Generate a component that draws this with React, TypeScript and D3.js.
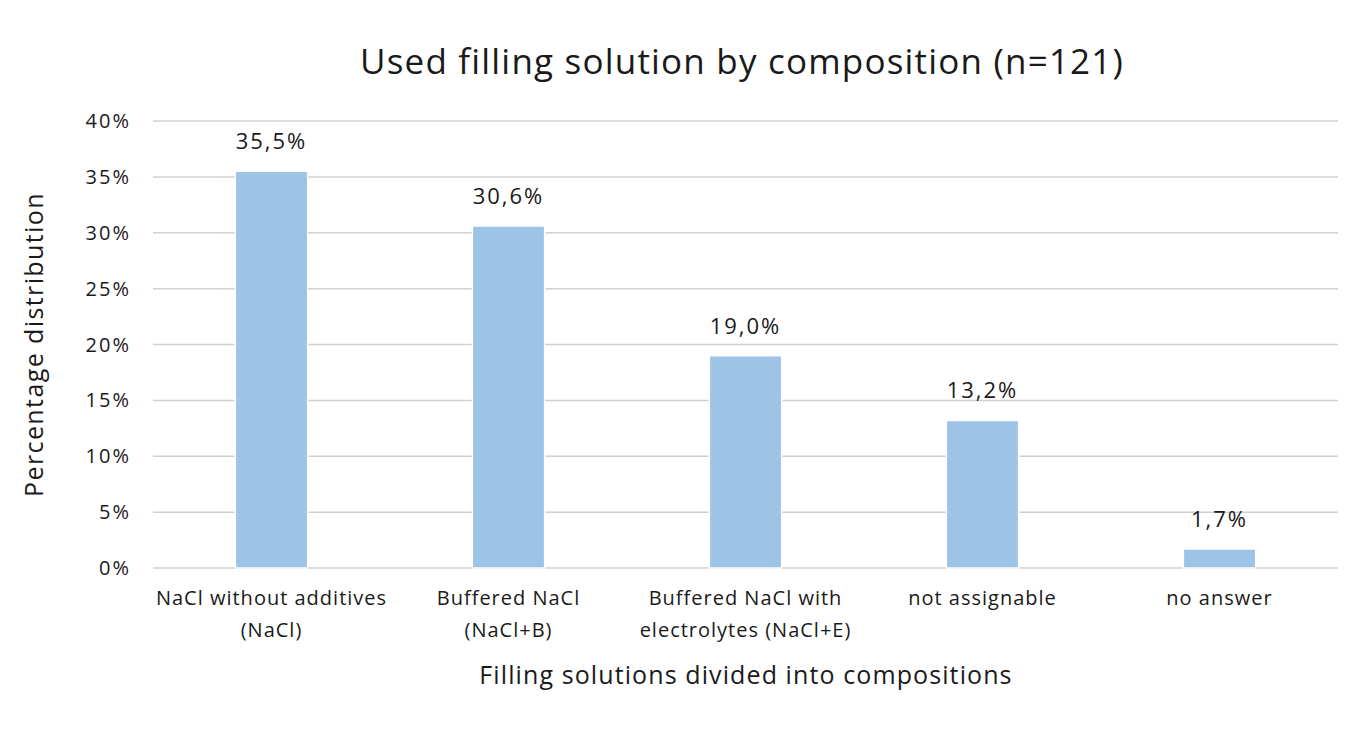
import * as d3 from "d3";

const categories = [
  ["NaCl without additives", "(NaCl)"],
  ["Buffered NaCl", "(NaCl+B)"],
  ["Buffered NaCl with", "electrolytes (NaCl+E)"],
  ["not assignable"],
  ["no answer"],
];
const values = [35.5, 30.6, 19.0, 13.2, 1.7];
const valueLabels = ["35,5%", "30,6%", "19,0%", "13,2%", "1,7%"];
const yTicks = [0, 5, 10, 15, 20, 25, 30, 35, 40];

const W = 1360;
const H = 730;
const font = "'Open Sans', sans-serif";

export default function App() {
  const margin = { left: 153, right: 22, top: 121, bottom: 162 };
  const x = d3
    .scaleBand<number>()
    .domain(values.map((_, i) => i))
    .range([margin.left, W - margin.right])
    .paddingInner(0.695)
    .paddingOuter(0.3475);
  const y = d3.scaleLinear().domain([0, 40]).range([H - margin.bottom, margin.top]);
  const band = x.step();

  return (
    <svg
      width={W}
      height={H}
      style={{ position: "absolute", left: 0, top: 0, background: "#fff" }}
      fontFamily={font}
    >
      {/* grid lines */}
      {yTicks.map((t) => (
        <g key={t}>
          <line
            x1={margin.left}
            x2={W - margin.right}
            y1={y(t)}
            y2={y(t)}
            stroke="#d0d0d0"
            strokeWidth={1.5}
          />
          <text
            x={131}
            y={y(t)}
            dy="0.35em"
            textAnchor="end"
            fontSize={20}
            letterSpacing={2}
            fill="#1a1a1a"
          >
            {t}%
          </text>
        </g>
      ))}

      {/* bars */}
      {values.map((v, i) => (
        <g key={i}>
          <rect
            x={x(i)}
            y={y(v)}
            width={x.bandwidth()}
            height={y(0) - y(v)}
            fill="#9dc3e6"
            stroke="#fff"
            strokeWidth={1.5}
          />
          <text
            x={(x(i) ?? 0) + x.bandwidth() / 2}
            y={y(v) - 22}
            textAnchor="middle"
            fontSize={22}
            letterSpacing={2}
            fill="#1a1a1a"
          >
            {valueLabels[i]}
          </text>
        </g>
      ))}

      {/* category labels */}
      {categories.map((lines, i) => (
        <text
          key={i}
          x={margin.left + band * i + band / 2}
          y={605}
          textAnchor="middle"
          fontSize={20}
          letterSpacing={1}
          fill="#1a1a1a"
        >
          {lines.map((l, j) => (
            <tspan key={j} x={margin.left + band * i + band / 2} dy={j === 0 ? 0 : 32}>
              {l}
            </tspan>
          ))}
        </text>
      ))}

      {/* titles */}
      <text x={742} y={74} textAnchor="middle" fontSize={35} letterSpacing={1.2} fill="#1a1a1a">
        Used filling solution by composition (n=121)
      </text>
      <text
        transform={`translate(43,${(y(0) + y(40)) / 2}) rotate(-90)`}
        textAnchor="middle"
        fontSize={25}
        letterSpacing={1.4}
        fill="#1a1a1a"
      >
        Percentage distribution
      </text>
      <text x={746} y={684} textAnchor="middle" fontSize={25} letterSpacing={1.1} fill="#1a1a1a">
        Filling solutions divided into compositions
      </text>
    </svg>
  );
}
